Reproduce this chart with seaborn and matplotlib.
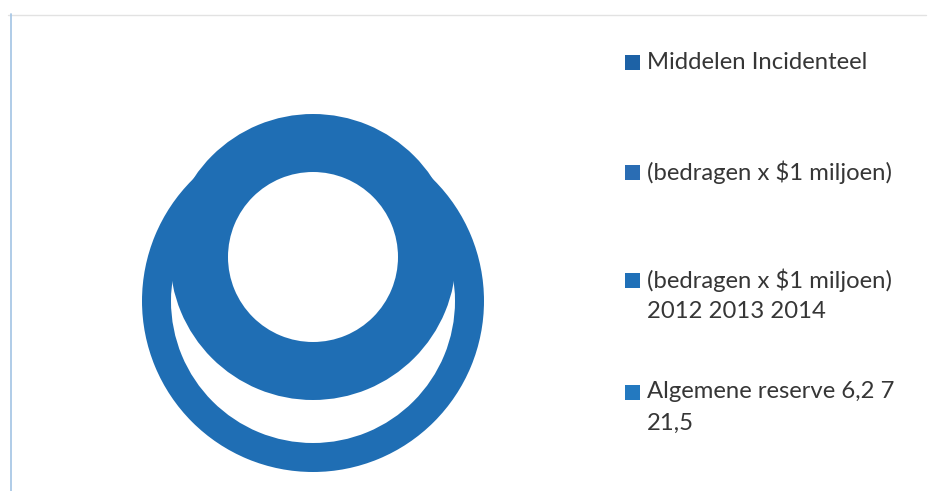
import matplotlib
matplotlib.use("Agg")
import matplotlib.pyplot as plt
from matplotlib.lines import Line2D
from matplotlib.patches import Rectangle
import seaborn as sns

# legend categories (as printed in the chart) and their swatch colours
categories = [
    "Middelen Incidenteel",
    "(bedragen x $1 miljoen)",
    "(bedragen x $1 miljoen)\n2012 2013 2014",
    "Algemene reserve 6,2 7\n21,5",
]
category_colors = ["#1d62a6", "#2a6db4", "#1f70b8", "#2379c0"]

# the two rings of the doughnut (values per ring, all drawn in the same blue)
outer_ring_values = [21.5]
inner_ring_values = [7.0]
ring_color = "#1f6eb4"

sns.set_style("white")
plt.rcParams["font.family"] = ["Lato", "DejaVu Sans"]

fig = plt.figure(figsize=(9.34, 4.91), dpi=100)
ax = fig.add_axes([0, 0, 1, 1])

# lower / outer ring
ax.pie(outer_ring_values, radius=171, center=(313, 301),
       colors=[ring_color] * len(outer_ring_values), startangle=90,
       counterclock=False, wedgeprops=dict(width=29, linewidth=0))
# upper / inner ring (sits on top of the outer one)
ax.pie(inner_ring_values, radius=143, center=(313, 257),
       colors=[ring_color] * len(inner_ring_values), startangle=90,
       counterclock=False, wedgeprops=dict(width=58, linewidth=0))

ax.set_xlim(0, 934)
ax.set_ylim(491, 0)
ax.set_aspect("equal")
ax.axis("off")

# legend drawn by hand so the swatch sits on the first line of each label
first_line_y = [62, 172, 280, 392]
line_gap = 31
for label, col, y0 in zip(categories, category_colors, first_line_y):
    ax.add_patch(Rectangle((625, y0 - 7.5), 15, 15, color=col, lw=0))
    for i, line in enumerate(label.split("\n")):
        ax.text(647, y0 + i * line_gap, line, fontsize=17.2, color="#363636",
                ha="left", va="center")

# chart area border (light top line, light blue left line)
fig.add_artist(Line2D([8 / 934, 926 / 934], [1 - 14.5 / 491, 1 - 14.5 / 491],
                      color="#e2e2e2", lw=1))
fig.add_artist(Line2D([10.5 / 934, 10.5 / 934], [0, 1 - 14 / 491],
                      color="#a9c8e6", lw=1.3))

fig.savefig("out.png", dpi=100)
